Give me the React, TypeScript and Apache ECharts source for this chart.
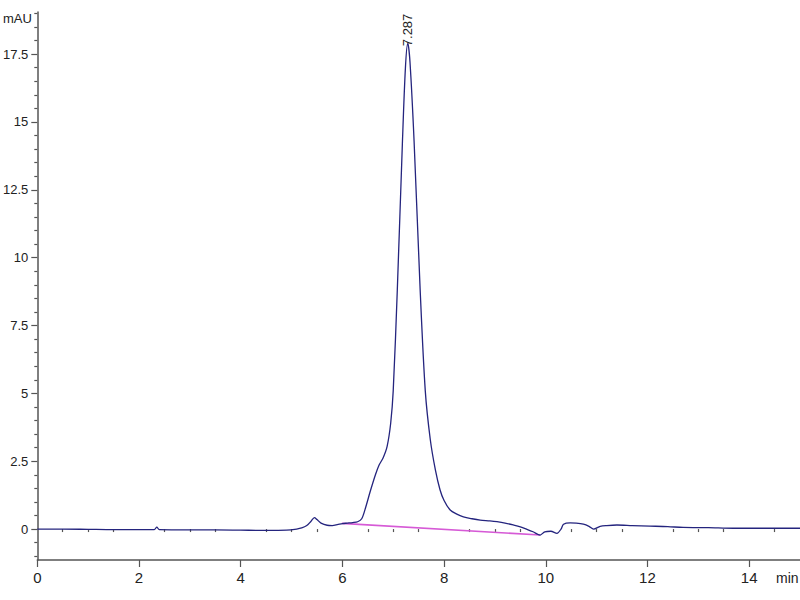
import React, { useEffect, useRef } from "react";
import * as echarts from "echarts";

const times = [0, 0.5, 1.0, 1.5, 2.0, 2.3, 2.35, 2.4, 3.0, 3.5, 4.0, 4.5, 4.9, 5.1, 5.2, 5.3, 5.38, 5.45, 5.5, 5.58, 5.7, 5.8, 5.9, 6.0, 6.1, 6.2, 6.3, 6.38, 6.45, 6.55, 6.65, 6.72, 6.8, 6.88, 6.95, 7.0, 7.08, 7.18, 7.24, 7.287, 7.33, 7.41, 7.53, 7.63, 7.73, 7.83, 7.92, 8.0, 8.12, 8.25, 8.38, 8.55, 8.71, 8.9, 9.04, 9.2, 9.36, 9.5, 9.63, 9.75, 9.89, 9.98, 10.1, 10.22, 10.3, 10.35, 10.48, 10.6, 10.74, 10.85, 10.94, 11.07, 11.2, 11.4, 11.7, 12.05, 12.4, 12.7, 13.2, 13.69, 14.3, 15];
const signal = [0, 0, -0.01, -0.02, -0.02, -0.02, 0.07, -0.02, -0.03, -0.03, -0.04, -0.05, -0.04, 0.0, 0.04, 0.13, 0.28, 0.42, 0.35, 0.22, 0.14, 0.13, 0.16, 0.2, 0.22, 0.24, 0.27, 0.38, 0.75, 1.4, 2.0, 2.35, 2.62, 3.05, 3.9, 5.1, 8.8, 14.2, 17.0, 17.9, 17.2, 14.3, 8.8, 5.1, 3.28, 2.17, 1.45, 1.05, 0.7, 0.55, 0.45, 0.38, 0.33, 0.3, 0.27, 0.22, 0.15, 0.08, -0.01, -0.1, -0.22, -0.1, -0.08, -0.16, 0.0, 0.18, 0.23, 0.22, 0.18, 0.1, 0.0, 0.1, 0.13, 0.15, 0.13, 0.11, 0.09, 0.06, 0.05, 0.03, 0.03, 0.03];

const baselineTimes = [5.99, 9.89];
const baselineValues = [0.21, -0.22];

const peakTime = 7.287;
const peakValue = 17.9;
const peakLabel = "7.287";

const xMajorTicks = [0, 2, 4, 6, 8, 10, 12, 14];
const xMinorTicks = [0.5, 1, 1.5, 2.5, 3, 3.5, 4.5, 5, 5.5, 6.5, 7, 7.5, 8.5, 9, 9.5, 10.5, 11, 11.5, 12.5, 13, 13.5, 14.5];
const yMajorTicks = [0, 2.5, 5, 7.5, 10, 12.5, 15, 17.5];
const yMinorTicks = [-1, -0.5, 0.5, 1, 1.5, 2, 3, 3.5, 4, 4.5, 5.5, 6, 6.5, 7, 8, 8.5, 9, 9.5, 10.5, 11, 11.5, 12, 13, 13.5, 14, 14.5, 15.5, 16, 16.5, 17, 18, 18.5, 19];

const X_MIN = 0, X_MAX = 15, Y_MIN = -1.14, Y_MAX = 19.05;
const FONT = "'Liberation Sans Narrow', 'Arial Narrow', 'Liberation Sans', Arial, sans-serif";
const AXIS_COLOR = "#555";
const TEXT_COLOR = "#222";

export default function App() {
  const ref = useRef<HTMLDivElement>(null);
  useEffect(() => {
    if (!ref.current) return;
    const chart = echarts.init(ref.current, undefined, { renderer: "svg" });
    const main = times.map((t, i) => [t, signal[i]]);
    const base = baselineTimes.map((t, i) => [t, baselineValues[i]]);
    chart.setOption({
      animation: false,
      backgroundColor: "#fff",
      grid: { left: 37, right: 0, top: 12, bottom: 40, containLabel: false },
      xAxis: [
        {
          type: "value", min: X_MIN, max: X_MAX,
          axisLine: { show: true, onZero: false, lineStyle: { color: AXIS_COLOR, width: 1.5 } },
          axisTick: { show: true, customValues: xMajorTicks, length: 7, lineStyle: { color: AXIS_COLOR, width: 1.2 } },
          axisLabel: { customValues: xMajorTicks, fontSize: 15, color: TEXT_COLOR, fontFamily: FONT, margin: 10 },
          splitLine: { show: false },
        },
        {
          type: "value", min: X_MIN, max: X_MAX, position: "bottom",
          axisLine: { show: false },
          axisTick: { show: true, customValues: xMinorTicks, length: 3, lineStyle: { color: AXIS_COLOR, width: 1.2 } },
          axisLabel: { show: false },
          splitLine: { show: false },
        },
      ],
      yAxis: [
        {
          type: "value", min: Y_MIN, max: Y_MAX,
          axisLine: { show: true, onZero: false, lineStyle: { color: AXIS_COLOR, width: 1.5 } },
          axisTick: { show: true, customValues: yMajorTicks, length: 6, lineStyle: { color: AXIS_COLOR, width: 1.2 } },
          axisLabel: { customValues: yMajorTicks, fontSize: 13, color: TEXT_COLOR, fontFamily: FONT, margin: 9 },
          splitLine: { show: false },
        },
        {
          type: "value", min: Y_MIN, max: Y_MAX, position: "left",
          axisLine: { show: false },
          axisTick: { show: true, customValues: yMinorTicks, length: 3, lineStyle: { color: AXIS_COLOR, width: 1.2 } },
          axisLabel: { show: false },
          splitLine: { show: false },
        },
      ],
      series: [
        {
          type: "line", name: "baseline", data: base, xAxisIndex: 0, yAxisIndex: 0,
          symbol: "none", lineStyle: { color: "#d65ad6", width: 1.6 }, z: 2,
        },
        {
          type: "line", name: "signal", data: main, xAxisIndex: 0, yAxisIndex: 0,
          symbol: "none", smooth: 0.3, lineStyle: { color: "#24247e", width: 1.3 }, z: 3,
          markPoint: {
            symbol: "circle", symbolSize: 0,
            data: [{ coord: [peakTime, peakValue] }],
            label: {
              show: true, formatter: peakLabel, position: [0, 3], rotate: 90,
              align: "left", verticalAlign: "middle",
              fontSize: 13, color: TEXT_COLOR, fontFamily: FONT,
            },
          },
        },
      ],
      graphic: [
        { type: "text", left: 3, top: 12, style: { text: "mAU", fontSize: 13, fill: TEXT_COLOR, fontFamily: FONT } },
        { type: "text", x: 776, y: 578, style: { text: "min", fontSize: 14, fill: TEXT_COLOR, fontFamily: FONT, verticalAlign: "middle" } },
      ],
    });
    return () => chart.dispose();
  }, []);
  return <div ref={ref} style={{ width: 800, height: 600, position: "absolute", left: 0, top: 0 }} />;
}
